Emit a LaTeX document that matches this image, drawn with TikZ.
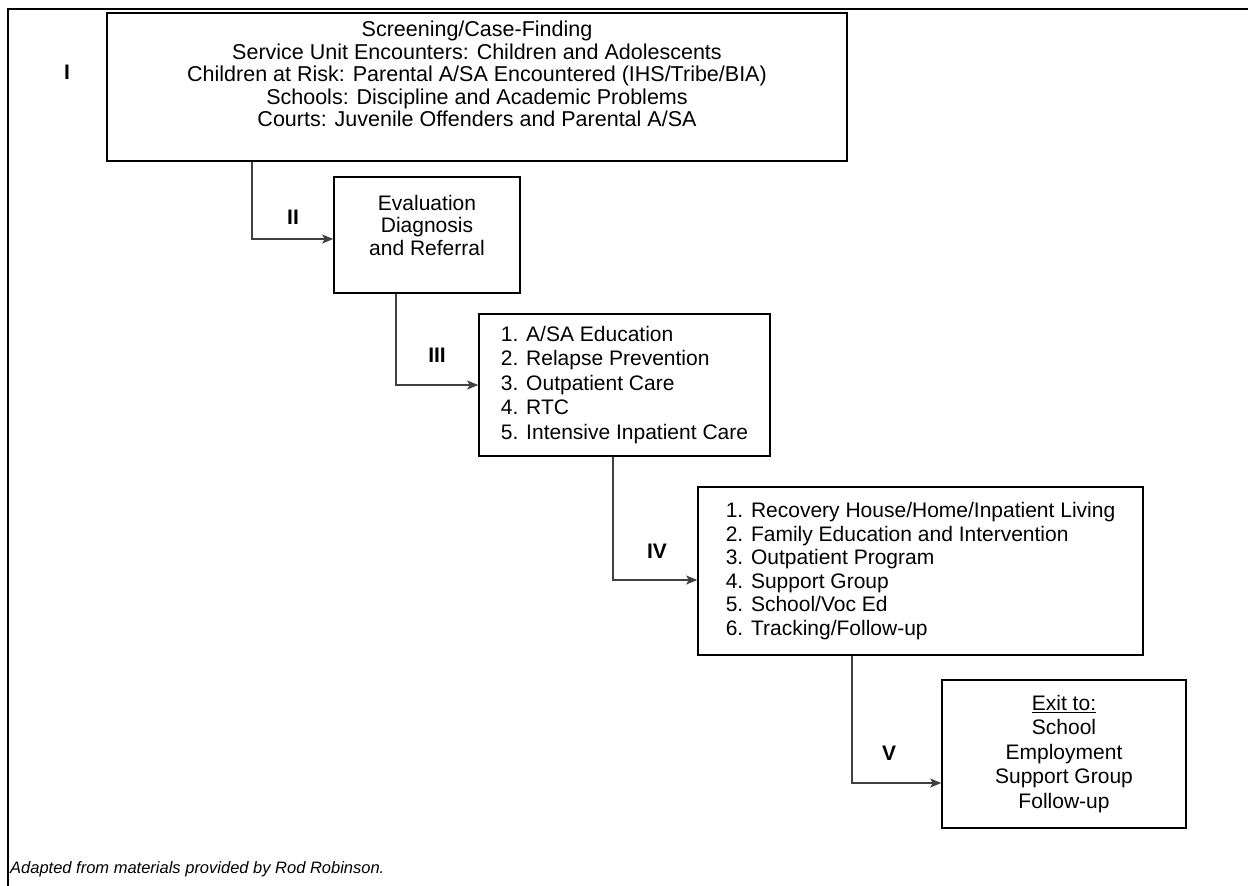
\documentclass[tikz,border=0pt]{standalone}
\usepackage{fontspec}
\setmainfont{Liberation Sans}
\usetikzlibrary{arrows.meta}
\begin{document}
\begin{tikzpicture}[x=1pt,y=-1pt,
  box/.style={draw=black, line width=1.6pt, inner sep=0pt, font=\fontsize{21}{24.5}\selectfont},
  txt/.style={inner sep=0pt, anchor=north, align=center},
  conn/.style={draw=black!75, line width=1.1pt, -{Stealth[length=11pt,width=9pt,inset=2.5pt]}},
  lab/.style={font=\fontsize{21}{24}\selectfont\bfseries}]
\useasboundingbox (0,0) rectangle (1248,886);
\draw[line width=2.5pt] (8,887) -- (8,9) -- (1250,9);
\node[box, minimum width=740pt, minimum height=148pt] (b1) at (477,87) {};
\node[txt, font=\fontsize{21.5}{22.5}\selectfont] (t1) at (477,21)
  {Screening/Case-Finding\\Service Unit Encounters: Children and Adolescents\\Children at Risk: Parental A/SA Encountered (IHS/Tribe/BIA)\\Schools: Discipline and Academic Problems\\Courts: Juvenile Offenders and Parental A/SA};
\node[box, minimum width=186pt, minimum height=116pt] (b2) at (427,235) {};
\node[txt, font=\fontsize{21}{22.5}\selectfont] (t2) at (427,195)
  {Evaluation\\Diagnosis\\and Referral};
\node[box, minimum width=291pt, minimum height=142pt, align=left] (b3) at (624.5,385)
  {1. A/SA Education\\2. Relapse Prevention\\3. Outpatient Care\\4. RTC\\5. Intensive Inpatient Care};
\node[box, minimum width=445pt, minimum height=168pt, align=left, font=\fontsize{21}{23.5}\selectfont] (b4) at (920.5,571)
  {1. Recovery House/Home/Inpatient Living\\2. Family Education and Intervention\\3. Outpatient Program\\4. Support Group\\5. School/Voc Ed\\6. Tracking/Follow-up};
\node[box, minimum width=244pt, minimum height=148pt, align=center] (b5) at (1064,754)
  {\underline{Exit to:}\\School\\Employment\\Support Group\\Follow-up};
\coordinate (k1) at (252,239);
\coordinate (k2) at (396,385);
\coordinate (k3) at (613,580);
\coordinate (k4) at (852,783);
\draw[conn] (b1.south -| k1) -- (k1) -- (k1 -| b2.west);
\draw[conn] (b2.south -| k2) -- (k2) -- (k2 -| b3.west);
\draw[conn] (b3.south -| k3) -- (k3) -- (k3 -| b4.west);
\draw[conn] (b4.south -| k4) -- (k4) -- (k4 -| b5.west);
\node[lab] (l1) at (67,72) {I};
\node[lab] (l2) at (293,217) {II};
\node[lab] (l3) at (437,355) {III};
\node[lab] (l4) at (657,551) {IV};
\node[lab] (l5) at (889,753) {V};
\node[anchor=west, inner sep=0pt, font=\fontsize{16.5}{18}\selectfont\itshape] (note) at (10,869)
  {Adapted from materials provided by Rod Robinson.};
\end{tikzpicture}
\end{document}
